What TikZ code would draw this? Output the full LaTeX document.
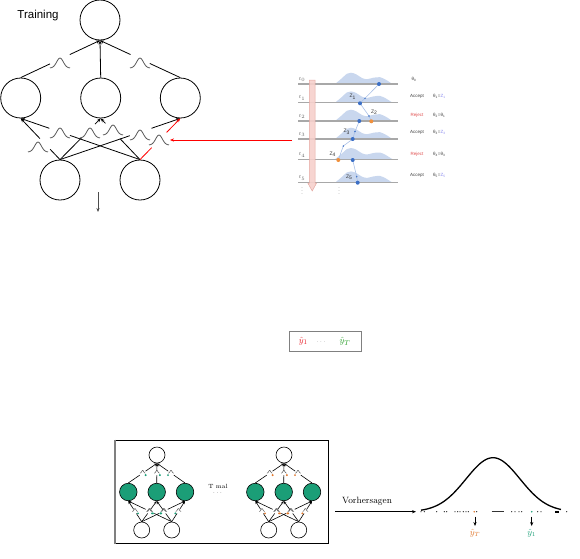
\documentclass[tikz,border=0pt]{standalone}
\usepackage{fontspec}
\newfontfamily\arial{Liberation Sans}
\usetikzlibrary{arrows.meta,calc}
\definecolor{teal2}{HTML}{1B9E77}
\definecolor{orng}{HTML}{E0782E}
\definecolor{hump}{HTML}{C9D7EE}
\definecolor{dotblue}{HTML}{3B6FC6}
\definecolor{dotorange}{HTML}{F0903C}
\definecolor{linegray}{HTML}{A8A8A8}
\definecolor{pinkfill}{HTML}{F6D0CC}
\definecolor{pinkedge}{HTML}{E3A29A}
\definecolor{boxred}{HTML}{E8202A}
\definecolor{boxgreen}{HTML}{2CA02C}
\definecolor{zblue}{HTML}{8A8AF0}
\definecolor{pathblue}{HTML}{A9C0E6}
\definecolor{rejred}{HTML}{E05050}
\tikzset{
  bellpic/.pic={\draw[domain=-1:1,samples=21,smooth] plot ({10*\x},{-10*exp(-4.5*\x*\x)});},
  neuron/.style={circle,draw,minimum size=40pt,inner sep=0pt,line width=0.8pt},
  conn/.style={line width=0.8pt},
  bellst/.style={gray!70!black,line width=0.8pt},
  snode/.style={circle,draw,fill=white,minimum size=16pt,inner sep=0pt,line width=0.6pt},
  gnode/.style={circle,draw,fill=teal2,minimum size=17.5pt,inner sep=0pt,line width=0.6pt},
  sconn/.style={line width=0.6pt,>={Stealth[length=3pt,width=2.6pt]}},
  mtxt/.style={font=\arial\fontsize{4.5}{5}\selectfont,text=black!75,anchor=west,inner sep=0pt},
  ztxt/.style={font=\arial\fontsize{5}{6}\selectfont,text=black!80,inner sep=0pt},
  tlab/.style={font=\fontsize{4.5}{5}\selectfont,text=black!60,inner sep=0pt},
}
\newcommand\gapln[5][]{%
  \draw[#1] (#2) -- ($(#2)!#4!(#3)$);
  \draw[#1,->] ($(#2)!#5!(#3)$) -- (#3);}
\newcommand\smallnet[3]{%
\begin{scope}[xshift=#2]
\node[snode] (#1t) at (157,455) {};
\node[gnode] (#1g1) at (128.3,492) {};
\node[gnode] (#1g2) at (156.7,492) {};
\node[gnode] (#1g3) at (185,492) {};
\node[snode] (#1i1) at (141.7,530) {};
\node[snode] (#1i2) at (171.7,530) {};
\end{scope}
\foreach \a/\b/\s in {g1/t/1, g2/t/1, g3/t/-1, i1/g1/1, i1/g2/1, i1/g3/-1, i2/g1/1, i2/g2/-1, i2/g3/-1}{%
  \draw[sconn] (#1\a.north) -- ($(#1\a.north)!0.4!(#1\b.south)$);
  \draw[sconn,->] ($(#1\a.north)!0.6!(#1\b.south)$) -- (#1\b.south);
  \pic[gray!70!black,line width=0.5pt,scale=0.28] at ($(#1\a.north)!0.5!(#1\b.south)$) {bellpic};
  \fill[#3] ($(#1\a.north)!0.5!(#1\b.south)+(3*\s,2)$) circle (1.1pt);
}}
\begin{document}
\begin{tikzpicture}[x=1pt,y=-1pt,>={Stealth[length=4pt,width=3.2pt]}]
\useasboundingbox (0,0) rectangle (580,558);
% ---------------- Training network
\node[font=\arial\fontsize{11.5}{12}\selectfont] (train) at (38,16) {Training};
\node[neuron] (T) at (100,20) {};
\node[neuron] (M1) at (20.7,98) {};
\node[neuron] (M2) at (100.7,98) {};
\node[neuron] (M3) at (180.3,98) {};
\node[neuron] (B1) at (60,180) {};
\node[neuron] (B2) at (140,180) {};
\gapln[conn]{M1.north}{T.south}{0.37}{0.62}
\draw[conn,->] (M2.north) -- (T.south);
\gapln[conn]{M3.north}{T.south}{0.38}{0.62}
\pic[bellst] at (60,68) {bellpic};
\pic[bellst] at (140,68) {bellpic};
\gapln[conn]{B1.north}{M1.south}{0.25}{0.51}
\gapln[conn]{B1.north}{M2.south}{0.53}{0.86}
\gapln[conn]{B1.north}{M3.south}{0.58}{0.76}
\gapln[conn]{B2.north}{M1.south}{0.587}{0.76}
\gapln[conn]{B2.north}{M2.south}{0.51}{0.88}
\gapln[conn,red]{B2.north}{M3.south}{0.29}{0.66}
\pic[bellst] at (38,152) {bellpic};
\pic[bellst] at (90,138) {bellpic};
\pic[bellst] at (140,140) {bellpic};
\pic[bellst] at (60,138) {bellpic};
\pic[bellst] at (113,135) {bellpic};
\pic[bellst] at (159,145) {bellpic};
\coordinate (d1) at (98,192);
\coordinate (d2) at (98,212);
\draw[->,gray!60!black,line width=1pt] (d1) -- (d2);
% ---------------- MCMC illustration
\foreach \y in {84,102.7,121,139,159.3,182.7}{
  \fill[hump] plot[smooth] coordinates {(335,\y) (341,\y-5) (347,\y-10.3) (351,\y-11.3) (356,\y-9.8) (362,\y-6) (367,\y-4.8) (373,\y-6.2) (380,\y-6.8) (386,\y-4.2) (391,\y-1) (393,\y)} -- cycle;
  \draw[linegray,line width=1.3pt] (298,\y) -- (398,\y);
}
\foreach \y/\i in {84/0,102.7/1,121/2,139/3,159.3/4,182.7/5}{
  \node[tlab] at (302,\y-4.5) {$t_\i$};
}
\filldraw[fill=pinkfill,draw=pinkedge,line width=0.5pt,opacity=0.9] (309.3,80) -- (315,80) -- (315,183) -- (316.6,183) -- (312.2,191) -- (307.8,183) -- (309.3,183) -- cycle;
\draw[pathblue,line width=0.6pt] (379,84) -- (365,98.3) -- (360,103.3);
\draw[pathblue,line width=0.6pt] (360,103.3) -- (369,116) -- (371.3,121.3);
\draw[pathblue,line width=0.6pt] (359.3,121) -- (355,131.5) -- (352.7,139);
\draw[pathblue,line width=0.6pt] (352.7,139) -- (343.3,146) -- (338.3,160);
\draw[pathblue,line width=0.6pt] (352.7,160) -- (356.7,176.7) -- (357.7,182.7);
\foreach \p in {(365,98.3),(369,116),(355,131.5),(343.3,146),(356.7,176.7)}{\fill[dotblue] \p circle (0.8pt);}
\foreach \p in {(379,84),(360,103.3),(359.3,121),(352.7,139),(352.7,160),(357.7,182.7)}{\fill[dotblue] \p circle (2pt);}
\foreach \p in {(371.3,121.3),(338.3,160)}{\fill[dotorange] \p circle (2pt);}
\node[ztxt] (z1) at (352.7,96.7) {Z\textsubscript{1}};
\node[ztxt] (z2) at (374.3,112.3) {Z\textsubscript{2}};
\node[ztxt] (z3) at (346.7,131.7) {Z\textsubscript{3}};
\node[ztxt] (z4) at (332.7,154.3) {Z\textsubscript{4}};
\node[ztxt] (z5) at (349.3,177.3) {Z\textsubscript{5}};
\node[mtxt] (th0) at (411.5,79) {θ\textsubscript{0}};
\node[mtxt] (a1) at (410,96.7) {Accept};
\node[mtxt] (e1) at (433,96.7) {θ\textsubscript{1}=\textcolor{zblue}{Z\textsubscript{1}}};
\node[mtxt,text=rejred] (a2) at (410.5,115) {Reject};
\node[mtxt] (e2) at (433,115) {θ\textsubscript{2}=θ\textsubscript{1}};
\node[mtxt] (a3) at (410,132.7) {Accept};
\node[mtxt] (e3) at (433,132.7) {θ\textsubscript{3}=\textcolor{zblue}{Z\textsubscript{3}}};
\node[mtxt,text=rejred] (a4) at (410.5,154) {Reject};
\node[mtxt] (e4) at (433,154) {θ\textsubscript{4}=θ\textsubscript{3}};
\node[mtxt] (a5) at (410,175) {Accept};
\node[mtxt] (e5) at (433,175) {θ\textsubscript{5}=\textcolor{zblue}{Z\textsubscript{5}}};
\foreach \x in {302,339}{\foreach \y in {187.5,190.5,193.5}{\fill[black!35] (\x,\y) circle (0.45pt);}}
\coordinate (img) at (292,140);
\coordinate (redtip) at (170,140);
\draw[->,red,line width=0.8pt] (img) -- (redtip);
% ---------------- prediction box
\node[draw=gray,line width=1.2pt,minimum width=72pt,minimum height=20pt,inner sep=0pt] (ybox) at (325.5,341.7) {};
\node[text=boxred,font=\fontsize{9.5}{10}\selectfont] (y1) at (303.3,341.2) {$\hat{y}_1$};
\node[text=gray,font=\fontsize{6}{7}\selectfont] (ydots) at (321,341.7) {$\cdots$};
\node[text=boxgreen,font=\fontsize{9.5}{10}\selectfont] (yT) at (345,341.2) {$\hat{y}_T$};
% ---------------- ensemble box
\node[draw,line width=0.8pt,minimum width=214.3pt,minimum height=103.3pt,inner sep=0pt] (ens) at (221.2,491.7) {};
\draw[gray,line width=1.2pt] ($(ens.north west)+(1.3,0)$) -- ($(ens.south west)+(1.3,0)$);
\smallnet{L}{0pt}{teal2}
\smallnet{R}{127pt}{orng}
\node[font=\fontsize{6}{7}\selectfont] (tmal) at (218,486.7) {T mal};
\node[font=\fontsize{5}{6}\selectfont] (tdots) at (217.5,493) {$\cdots$};
% ---------------- predictions distribution
\coordinate (va) at (335,511.7);
\coordinate (vb) at (416,511.7);
\draw[->,line width=0.8pt] (va) -- (vb);
\node[font=\fontsize{9.1}{10}\selectfont] (vlab) at (367,501.7) {Vorhersagen};
\draw[line width=1.3pt] plot[domain=421:561,samples=90,smooth] (\x,{511.7-54*exp(-((\x-493)^2)/(2*27*27))});
\foreach \x in {421,424.3,436.7,444.3,446.7,455,457.7,460,463.3,466,468.3,476.7,511.7,515,519,521.7,537.7,541,566.7}{\fill[black!80] (\x,511.7) circle (0.7pt);}
\draw[black!80,line width=1.3pt] (491.5,511.7) -- (503.5,511.7);
\draw[black,line width=1.6pt] (555,511.7) -- (558.5,511.7);
\fill[orng] (474.3,511.7) circle (0.9pt);
\fill[teal2] (531.7,511.7) circle (0.9pt);
\coordinate (o1) at (475,516.7);
\coordinate (o2) at (475,526);
\coordinate (t1) at (531.7,516.7);
\coordinate (t2) at (531.7,526);
\draw[->,line width=0.8pt] (o1) -- (o2);
\draw[->,line width=0.8pt] (t1) -- (t2);
\node[text=orng,font=\fontsize{9}{10}\selectfont] (lyT) at (475,533.5) {$\hat{y}_T$};
\node[text=teal2,font=\fontsize{9}{10}\selectfont] (ly1) at (531.7,533.5) {$\hat{y}_1$};
\end{tikzpicture}
\end{document}
